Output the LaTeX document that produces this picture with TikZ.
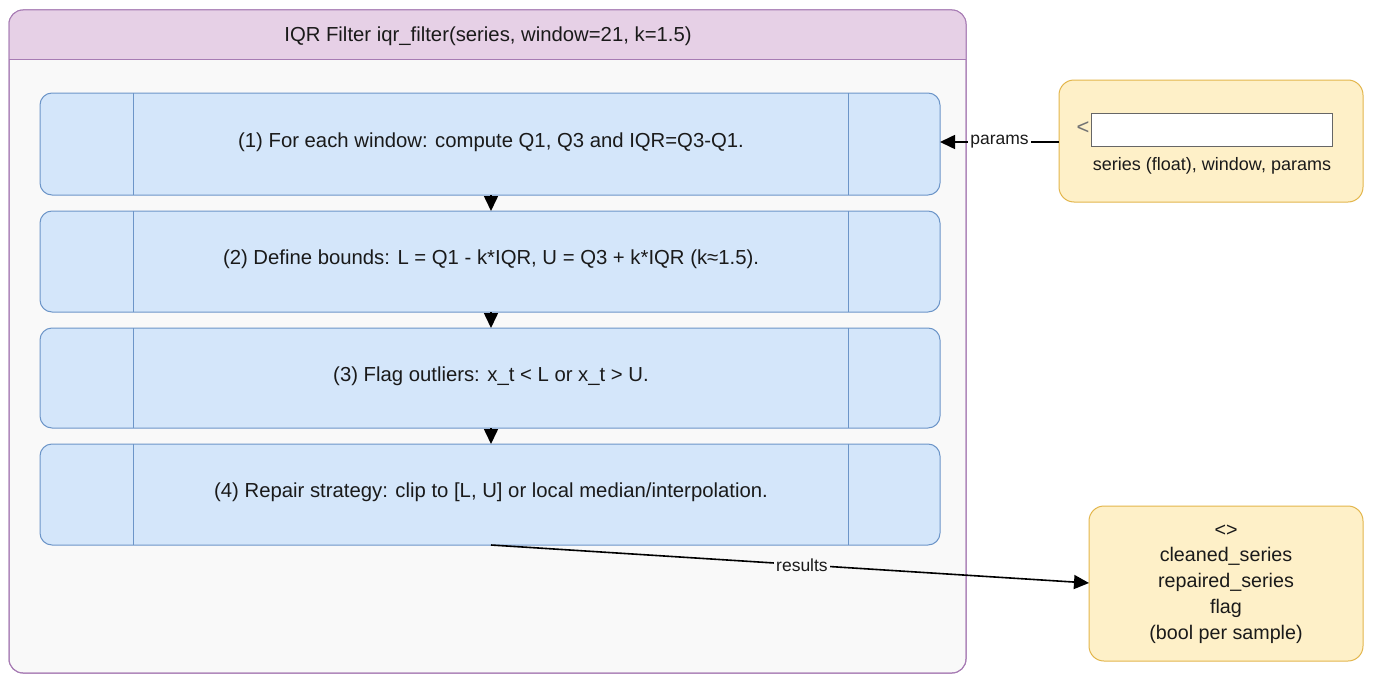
\documentclass[tikz,border=0pt]{standalone}
\usepackage{fontspec}
\setmainfont{Liberation Sans}
\usetikzlibrary{arrows.meta}
\definecolor{bgc}{HTML}{FFFFFF}
\definecolor{contfill}{HTML}{F9F9F9}
\definecolor{hdrfill}{HTML}{E6D0E6}
\definecolor{hdrline}{HTML}{A77BB4}
\definecolor{stepfill}{HTML}{D4E6FA}
\definecolor{stepline}{HTML}{6C95C8}
\definecolor{iofill}{HTML}{FEF0C8}
\definecolor{ioline}{HTML}{E3B64C}
\definecolor{txt}{HTML}{1A1A1A}
\tikzset{
  stepbox/.style={draw=stepline, fill=stepfill, line width=1pt, rounded corners=12pt},
  iobox/.style={draw=ioline, fill=iofill, line width=1pt, rounded corners=15pt},
  lbl/.style={font=\fontsize{17.5}{21}\selectfont, text=txt},
  biglbl/.style={font=\fontsize{20.3}{24}\selectfont, text=txt},
  flow/.style={-{Triangle[length=15pt,width=14pt]}, line width=1.6pt, black},
  elab/.style={lbl, fill=contfill, inner sep=2pt}
}
\begin{document}
\begin{tikzpicture}[x=1pt,y=-1pt]
\useasboundingbox (0,0) rectangle (1373,677);
\fill[bgc] (0,0) rectangle (1373,677);
% container
\draw[draw=hdrline, fill=contfill, line width=1pt, rounded corners=14pt] (9,10) rectangle (966,673);
\begin{scope}
\clip[rounded corners=14pt] (9,10) rectangle (966,673);
\fill[hdrfill] (9,10) rectangle (966,60);
\end{scope}
\draw[draw=hdrline, line width=1pt, rounded corners=14pt] (9,10) rectangle (966,673);
\draw[draw=hdrline, line width=1pt] (9,60) -- (966,60);
\node[biglbl] (title) at (488,36) {IQR Filter iqr\_filter(series, window=21, k=1.5)};
% steps
\foreach \n/\t/\b/\txt in {1/93/195/{(1) For each window: compute Q1, Q3 and IQR=Q3-Q1.},
  2/211/312/{(2) Define bounds: L = Q1 - k*IQR, U = Q3 + k*IQR (k≈1.5).},
  3/328/428/{(3) Flag outliers: x\_t < L or x\_t > U.},
  4/444/545/{(4) Repair strategy: clip to [L, U] or local median/interpolation.}}{
  \draw[stepbox] (40,\t) rectangle (940,\b);
  \draw[stepline, line width=1pt] (133,\t) -- (133,\b);
  \draw[stepline, line width=1pt] (848,\t) -- (848,\b);
  \coordinate (s\n n) at (491,\t);
  \coordinate (s\n s) at (491,\b);
  \node[biglbl] (t\n) at (491,{(\t+\b)/2-2}) {\txt};
}
\coordinate (s1e) at (940,142);
\draw[flow] (s1s) -- (s2n);
\draw[flow] (s2s) -- (s3n);
\draw[flow] (s3s) -- (s4n);
% input box
\draw[iobox] (1059,80) rectangle (1363,202);
\coordinate (inW) at (1059,142);
\node[draw=gray!80!black, fill=white, line width=1pt, minimum width=241pt, minimum height=33pt, inner sep=0pt] (field) at (1211.5,129.5) {};
\node[font=\fontsize{22}{24}\selectfont, text=gray!90!black] (lt) at (1083,128) {<};
\node[font=\fontsize{18}{21}\selectfont, text=txt] (intext) at (1212,166) {series (float), window, params};
\draw[flow] (inW) -- node[elab, fill=white] (plab) {params} (s1e);
% output box
\draw[iobox] (1089,506) rectangle (1363,661);
\coordinate (outW) at (1089,583);
\node[text=txt, align=center, font=\fontsize{19.7}{25.8}\selectfont] (outtext) at (1226,584) {<>\\cleaned\_series\\repaired\_series\\flag\\(bool per sample)};
\draw[flow] (s4s) -- node[elab, pos=0.52] (rlab) {results} (outW);
\end{tikzpicture}
\end{document}
